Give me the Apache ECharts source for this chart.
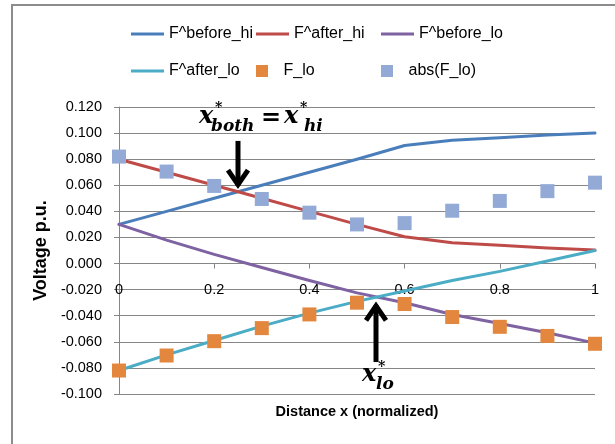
<!DOCTYPE html>
<html><head><meta charset="utf-8">
<script src="https://cdn.jsdelivr.net/npm/echarts@6/dist/echarts.min.js"></script>
<style>html,body{margin:0;padding:0;background:#fff}#c{width:615px;height:444px}</style>
</head><body><div id="c"></div>
<script>
// ---- data ----
const xs = [0, 0.1, 0.2, 0.3, 0.4, 0.5, 0.6, 0.7, 0.8, 0.9, 1.0];
const beforeHi = [0.030, 0.040, 0.050, 0.060, 0.070, 0.080, 0.0905, 0.0945, 0.0965, 0.0985, 0.100];
const afterHi  = [0.080, 0.070, 0.060, 0.050, 0.040, 0.030, 0.0205, 0.016, 0.014, 0.012, 0.0103];
const beforeLo = [0.030, 0.018, 0.007, -0.003, -0.013, -0.0225, -0.030, -0.039, -0.046, -0.053, -0.061];
const afterLo  = [-0.082, -0.070, -0.059, -0.048, -0.038, -0.029, -0.021, -0.013, -0.006, 0.002, 0.010];
const fLo      = [-0.082, -0.0705, -0.0595, -0.0495, -0.039, -0.030, -0.031, -0.041, -0.0485, -0.0555, -0.0615];
const absFLo   = [0.082, 0.0705, 0.0595, 0.0495, 0.039, 0.030, 0.031, 0.0405, 0.048, 0.0555, 0.062];
const names = ['F^before_hi', 'F^after_hi', 'F^before_lo', 'F^after_lo', 'F_lo', 'abs(F_lo)'];
const xTicks = ['0', '0.2', '0.4', '0.6', '0.8', '1'];
// annotation anchors (data coords)
const arrowHi = {x: 0.25, from: 0.094, to: 0.057};
const arrowLo = {x: 0.539, from: -0.0755, to: -0.029};

const colors = ['#4A7EBB', '#BE4B48', '#7E62A1', '#4BACC6', '#E3873F', '#93AAD7'];
const pair = a => xs.map((x, i) => [x, a[i]]);
const FONT = "'Liberation Sans', Arial, sans-serif";

function lineSeries(name, data, color) {
  return {name, type: 'line', data: pair(data), showSymbol: false, symbol: 'none',
    lineStyle: {color, width: 3, cap: 'round', join: 'round'}, itemStyle: {color}, z: 2, animation: false};
}
function scatterSeries(name, data, color) {
  return {name, type: 'scatter', data: pair(data), symbol: 'rect', symbolSize: 14,
    itemStyle: {color, opacity: 1}, z: 3, animation: false};
}
const sqIcon = 'path://M0,0H10V10H0Z';
function leg(name, left, top, square) {
  return {data: [{name, icon: square ? sqIcon : 'rect'}], left, top, padding: 0,
    itemWidth: 33, itemHeight: square ? 12 : 3, selectedMode: false,
    textStyle: {fontFamily: FONT, fontSize: 16, color: '#000'}};
}

const chart = echarts.init(document.getElementById('c'), null, {renderer: 'canvas'});
const option = {
  animation: false,
  textStyle: {fontFamily: FONT},
  grid: {left: 119, right: 20, top: 107, bottom: 50, containLabel: false, outerBoundsMode: 'none'},
  legend: [
    leg(names[0], 131, 26, false), leg(names[1], 256, 26, false), leg(names[2], 381, 26, false),
    leg(names[3], 131, 63, false), leg(names[4], 256, 63, true), leg(names[5], 381, 63, true)
  ],
  xAxis: {
    type: 'value', min: 0, max: 1, interval: 0.2, offset: 0,
    name: 'Distance x (normalized)', nameLocation: 'middle', nameGap: 141,
    nameTextStyle: {fontFamily: FONT, fontSize: 14.5, fontWeight: 'bold', color: '#000'},
    axisLine: {onZero: false, lineStyle: {color: '#868686', width: 1}},
    axisTick: {show: true, length: 5, inside: false, lineStyle: {color: '#868686'}},
    axisLabel: {margin: 19, fontSize: 14.5, color: '#000', fontFamily: FONT,
      formatter: v => xTicks[Math.round(v / 0.2)]},
    splitLine: {show: false}
  },
  yAxis: {
    type: 'value', min: -0.1, max: 0.12, interval: 0.02,
    name: 'Voltage p.u.', nameLocation: 'middle', nameGap: 62, nameRotate: 90,
    nameTextStyle: {fontFamily: FONT, fontSize: 18, fontWeight: 'bold', color: '#000'},
    axisLine: {show: true, onZero: false, lineStyle: {color: '#868686', width: 1}},
    axisTick: {show: true, length: 5, lineStyle: {color: '#868686'}},
    axisLabel: {margin: 17, fontSize: 14.5, color: '#000', fontFamily: FONT,
      formatter: v => v.toFixed(3)},
    splitLine: {show: true, lineStyle: {color: '#868686', width: 1}}
  },
  series: [
    lineSeries(names[0], beforeHi, colors[0]),
    lineSeries(names[1], afterHi, colors[1]),
    lineSeries(names[2], beforeLo, colors[2]),
    lineSeries(names[3], afterLo, colors[3]),
    scatterSeries(names[4], fLo, colors[4]),
    scatterSeries(names[5], absFLo, colors[5])
  ]
};
chart.setOption(option);
// place the x axis on the zero line (axis crosses at y = 0)
const zeroY = chart.convertToPixel({gridIndex: 0}, [0, 0])[1];
const bottomY = chart.convertToPixel({gridIndex: 0}, [0, -0.1])[1];
chart.setOption({xAxis: {offset: zeroY - bottomY}});

function arrow(a, down) {
  const p0 = chart.convertToPixel({gridIndex: 0}, [a.x, a.from]);
  const p1 = chart.convertToPixel({gridIndex: 0}, [a.x, a.to]);
  const cx = Math.round(p0[0]);
  const tip = p1[1];
  const s = down ? 1 : -1;
  return [
    {type: 'line', shape: {x1: cx, y1: p0[1], x2: cx, y2: tip - s * 4},
      style: {stroke: '#000', lineWidth: 5}, z: 50},
    {type: 'polyline', shape: {points: [[cx - 10, tip - s * 19], [cx, tip - s * 4.5], [cx + 10, tip - s * 19]]},
      style: {stroke: '#000', lineWidth: 5, lineJoin: 'miter', fill: null}, z: 50}
  ];
}
const MF = "'DejaVu Serif', serif";
function t(text, x, y, size, italic) {
  return {type: 'text', x, y, z: 60,
    style: {text, font: (italic ? 'italic ' : '') + 'bold ' + size + 'px ' + MF, fill: '#000',
      align: 'left', verticalAlign: 'middle'}};
}
const g = [
  {type: 'rect', shape: {x: 12, y: 5, width: 700, height: 600}, style: {fill: 'none', stroke: '#8c8c8c', lineWidth: 2}, z: 40},
  ...arrow(arrowHi, true),
  ...arrow(arrowLo, false),
  t('x', 199, 117, 24, true), t('*', 215, 108, 14, false), t('both', 211, 127, 17, true),
  t('=', 261, 119, 24, false),
  t('x', 284, 117, 24, true), t('*', 300, 108, 14, false), t('hi', 304, 127, 17, true),
  t('x', 362, 375, 24, true), t('*', 378, 367, 14, false), t('lo', 376, 385, 17, true)
];
chart.setOption({graphic: g});
</script></body></html>
